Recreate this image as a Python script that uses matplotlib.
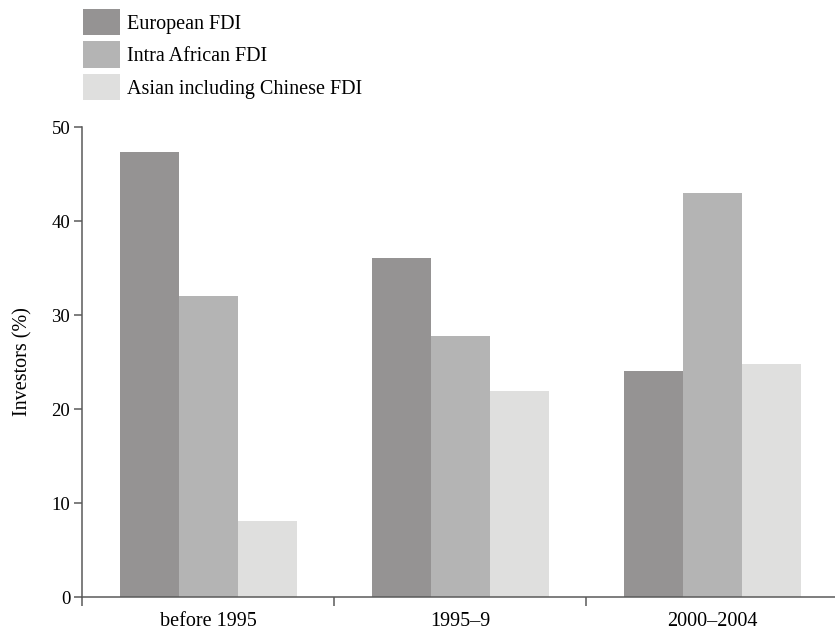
import matplotlib
matplotlib.use("Agg")
import numpy as np
import matplotlib.pyplot as plt
from matplotlib.patches import Patch

periods = ["before 1995", "1995–9", "2000–2004"]
series = ["European FDI", "Intra African FDI", "Asian including Chinese FDI"]
european = [47.3, 36.1, 24.0]
intra_african = [32.0, 27.8, 43.0]
asian = [8.1, 21.9, 24.8]
y_ticks = [0, 10, 20, 30, 40, 50]

colors = ["#959393", "#b4b4b4", "#dfdfde"]
axis_col = "#5a5a5a"

plt.rcParams["font.family"] = ["Liberation Serif", "DejaVu Serif"]

fig = plt.figure(figsize=(8.35, 6.35), dpi=100)
ax = fig.add_axes([82 / 835, 38 / 635, 756.5 / 835, 470 / 635])

x = np.arange(len(periods))
w = 0.234
for i, (vals, c) in enumerate(zip([european, intra_african, asian], colors)):
    ax.bar(x + (i - 1) * w, vals, w, color=c, linewidth=0)

ax.set_xlim(-0.5, 2.5)
ax.set_ylim(0, 50)
ax.set_yticks(y_ticks)
ax.set_yticklabels([str(t) for t in y_ticks], fontsize=13.5)
ax.set_xticks(x)
ax.set_xticklabels(periods, fontsize=14.5)
ax.set_xticks([-0.5, 0.5, 1.5, 2.5], minor=True)
ax.tick_params(axis="x", which="major", length=0, pad=11)
ax.tick_params(axis="x", which="minor", length=6.5, width=1.1, color=axis_col)
ax.tick_params(axis="y", length=5.5, width=1.1, color=axis_col, pad=3)

for s in ["top", "right"]:
    ax.spines[s].set_visible(False)
for s in ["left", "bottom"]:
    ax.spines[s].set_color(axis_col)
    ax.spines[s].set_linewidth(1.1)

ax.set_ylabel("Investors (%)", fontsize=14.5, labelpad=14)

# legend patches in the reference are about 37 x 26 px
handles = [Patch(facecolor=c, edgecolor="none") for c in colors]
fig.legend(handles, series, loc="upper left",
           bbox_to_anchor=(82.7 / 835, 1 - 8.7 / 635),
           frameon=False, fontsize=14.5, borderpad=0, borderaxespad=0,
           handlelength=1.84, handleheight=1.65, handletextpad=0.38,
           labelspacing=0.3)

fig.savefig("out.png", dpi=100, facecolor="white")
